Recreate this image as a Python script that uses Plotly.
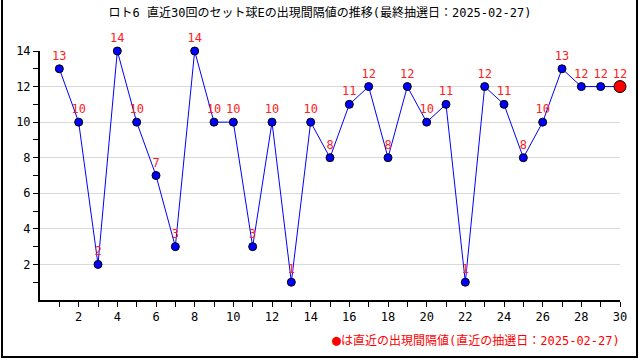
import plotly.graph_objects as go

draws = list(range(1, 31))
values = [13, 10, 2, 14, 10, 7, 3, 14, 10, 10, 3, 10, 1, 10, 8, 11, 12, 8, 12, 10,
          11, 1, 12, 11, 8, 10, 13, 12, 12, 12]
title_text = "ロト6 直近30回のセット球Eの出現間隔値の推移(最終抽選日：2025-02-27)"
note_mark = "●"
note_text = "は直近の出現間隔値(直近の抽選日：2025-02-27)"
x_tick_vals = list(range(2, 31, 2))
y_tick_vals = list(range(2, 15, 2))

FONT = "DejaVu Sans Mono, Noto Sans CJK JP"
W, H = 640, 360
L, R, T, B = 40, 20, 51, 60
pw, ph = W - L - R, H - T - B

def px_x(p):
    return (p - L) / pw

def px_y(p):
    return (H - B - p) / ph

fig = go.Figure()
fig.add_trace(go.Scatter(
    x=draws, y=values, mode="lines+markers+text",
    line=dict(color="#0000ff", width=1),
    marker=dict(color="#0000ff", size=8, line=dict(color="black", width=1)),
    text=[str(v) for v in values], textposition="top center",
    textfont=dict(color="#ff2020", size=12, family=FONT),
    cliponaxis=False, showlegend=False, hoverinfo="skip",
))
fig.add_trace(go.Scatter(
    x=draws[-1:], y=values[-1:], mode="markers",
    marker=dict(color="#ff0000", size=12, line=dict(color="black", width=1)),
    cliponaxis=False, showlegend=False, hoverinfo="skip",
))

fig.update_layout(
    width=W, height=H,
    margin=dict(l=L, r=R, t=T, b=B, autoexpand=False),
    paper_bgcolor="white", plot_bgcolor="white",
    font=dict(family=FONT, size=12, color="black"),
    title=dict(text=title_text, x=0.5, xanchor="center", y=1 - 13 / H, yanchor="middle",
               font=dict(size=12, family=FONT, color="black")),
    xaxis=dict(range=[0, 30], tickvals=x_tick_vals, ticks="outside", ticklen=5,
               tickcolor="black", showline=True, linecolor="black", linewidth=2,
               showgrid=False, zeroline=False, automargin=False,
               minor=dict(tickvals=list(range(1, 30, 2)), ticks="outside", ticklen=5,
                          tickcolor="black", showgrid=False),
               tickfont=dict(size=12, family=FONT)),
    yaxis=dict(range=[0, 14], tickvals=y_tick_vals, ticks="outside", ticklen=5,
               tickcolor="black", showline=True, linecolor="black", linewidth=2,
               showgrid=True, gridcolor="#d9d9d9", gridwidth=1, zeroline=False,
               automargin=False,
               minor=dict(tickvals=list(range(1, 14, 2)), ticks="outside", ticklen=5,
                          tickcolor="black", showgrid=False),
               tickfont=dict(size=12, family=FONT)),
    annotations=[dict(text="<span style='font-size:15px'>" + note_mark + "</span>" + note_text,
                      xref="paper", yref="paper",
                      x=px_x(622), y=px_y(340), xanchor="right", yanchor="middle",
                      showarrow=False, font=dict(color="#ff0000", size=12, family=FONT))],
    shapes=[
        dict(type="line", xref="paper", yref="paper", x0=px_x(2), x1=px_x(2), y0=px_y(0), y1=px_y(358),
             line=dict(color="black", width=2)),
        dict(type="line", xref="paper", yref="paper", x0=px_x(637), x1=px_x(637), y0=px_y(0), y1=px_y(358),
             line=dict(color="black", width=2)),
        dict(type="line", xref="paper", yref="paper", x0=px_x(1), x1=px_x(638), y0=px_y(357), y1=px_y(357),
             line=dict(color="black", width=2)),
    ],
)

css = "document.body.style.margin='0';document.body.style.overflow='hidden';"

fig.write_html("out.html", config={"displayModeBar": False}, post_script=css)
